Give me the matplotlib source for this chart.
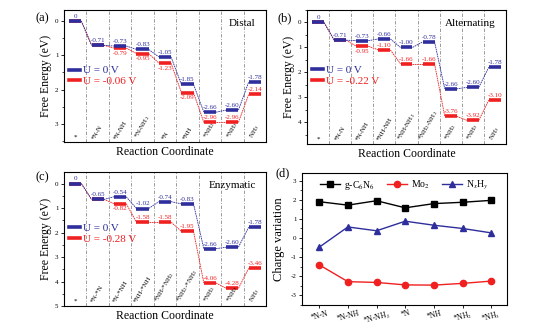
import numpy as np
import matplotlib
matplotlib.use('Agg')
import matplotlib.pyplot as plt
from matplotlib.lines import Line2D
from matplotlib.ticker import MultipleLocator, FuncFormatter

plt.rcParams['font.family'] = ['Liberation Serif', 'DejaVu Serif']
plt.rcParams['mathtext.fontset'] = 'stix'
plt.rcParams['axes.unicode_minus'] = False
plt.rcParams['axes.linewidth'] = 0.8

BLUE = '#2e2e9c'
RED = '#f02020'

# free energy of each intermediate (eV), at U = 0 and at the limiting potential
distal_steps = ['*', '*N-N', '*N-NH', '*N-NH$_2$', '*N', '*NH', '*NH$_2$', '*NH$_3$', 'NH$_3$']
distal_u0 = [0, -0.71, -0.73, -0.83, -1.05, -1.85, -2.66, -2.60, -1.78]
distal_ul = [0, -0.71, -0.79, -0.95, -1.23, -2.09, -2.96, -2.96, -2.14]

alt_steps = ['*', '*N-N', '*N-NH', '*NH-NH', '*NH-NH$_2$', '*NH$_2$-NH$_2$', '*NH$_2$', '*NH$_3$', 'NH$_3$']
alt_u0 = [0, -0.71, -0.73, -0.66, -1.00, -0.78, -2.66, -2.60, -1.78]
alt_ul = [0, -0.71, -0.95, -1.10, -1.66, -1.66, -3.76, -3.92, -3.10]

enz_steps = ['*', '*N-*N', '*N-*NH', '*NH-*NH', '*NH-*NH$_2$', '*NH$_2$-*NH$_2$', '*NH$_2$', '*NH$_3$', 'NH$_3$']
enz_u0 = [0, -0.65, -0.54, -1.02, -0.74, -0.83, -2.66, -2.60, -1.78]
enz_ul = [0, -0.65, -0.82, -1.58, -1.58, -1.95, -4.06, -4.28, -3.46]

# Bader charge variation of each fragment
charge_steps = ['*N-N', '*N-NH', '*N-NH$_2$', '*N', '*NH', '*NH$_2$', '*NH$_3$']
charge_gcn = [1.90, 1.72, 1.95, 1.58, 1.80, 1.87, 1.97]
charge_mo2 = [-1.40, -2.28, -2.32, -2.45, -2.46, -2.37, -2.25]
charge_nxhy = [-0.48, 0.58, 0.38, 0.88, 0.67, 0.50, 0.27]


def fmt(v):
    return '0' if v == 0 else f'{v:.2f}'


def energy_panel(ax, steps, e0, eu, u_text, title, ylim, red_below, leg_y):
    n = len(steps)
    half = 0.27
    for k in range(n - 1):
        ax.axvline(k + 0.5, color='#8a8a8a', lw=0.6, ls=(0, (4, 2, 1, 2)), zorder=0)
    for e, c in ((eu, RED), (e0, BLUE)):
        for i in range(n):
            ax.plot([i - half, i + half], [e[i], e[i]], color=c, lw=2.6,
                    solid_capstyle='butt', zorder=3)
            if i < n - 1:
                ax.plot([i + half, i + 1 - half], [e[i], e[i + 1]], color=c,
                        lw=0.6, ls=(0, (2, 0.8)), zorder=2)
    for i in range(n):
        ax.annotate(fmt(e0[i]), (i, e0[i]), xytext=(0, 1.5), textcoords='offset points',
                    ha='center', va='bottom', fontsize=5, color=BLUE, zorder=4)
    for i in range(2, n):
        below = i in red_below
        ax.annotate(fmt(eu[i]), (i, eu[i]), xytext=(0, -1.8 if below else 1.5),
                    textcoords='offset points', ha='center',
                    va='top' if below else 'bottom', fontsize=5, color=RED, zorder=4)
    for i, lab in enumerate(steps):
        ax.text(i, 0.015, lab, transform=ax.get_xaxis_transform(),
                rotation=0 if i == 0 else 60, ha='center', va='bottom', fontsize=5)
    ax.set_xlim(-0.5, n - 0.5)
    ax.set_ylim(*ylim)
    ax.set_xticks([])
    ax.yaxis.set_major_locator(MultipleLocator(1))
    ax.yaxis.set_minor_locator(MultipleLocator(0.5))
    ax.yaxis.set_major_formatter(FuncFormatter(lambda v, p: f'{abs(v):g}'))
    ax.tick_params(axis='y', labelsize=5, length=2.5, width=0.6, pad=1.5)
    ax.tick_params(axis='y', which='minor', length=1.5, width=0.5)
    ax.set_ylabel('Free Energy (eV)', fontsize=8.5, labelpad=2)
    ax.set_xlabel('Reaction Coordinate', fontsize=8.5, labelpad=3)
    ax.text(0.95, 0.93, title, transform=ax.transAxes, ha='right', va='top', fontsize=8)
    handles = [Line2D([], [], color=BLUE, lw=2.6), Line2D([], [], color=RED, lw=2.6)]
    leg = ax.legend(handles, ['U = 0 V', u_text], loc='center left',
                    bbox_to_anchor=(0.025, leg_y), frameon=False, fontsize=8,
                    handlelength=1.0, handletextpad=0.3, labelspacing=0.1,
                    borderaxespad=0, borderpad=0)
    for t, c in zip(leg.get_texts(), (BLUE, RED)):
        t.set_color(c)


fig = plt.figure(figsize=(5.4, 3.27), dpi=100)
W, H = 540, 327


def add_axes(l, t, r, b):
    return fig.add_axes([l / W, 1 - b / H, (r - l) / W, (b - t) / H])


ax_a = add_axes(64, 10, 266, 142)
ax_b = add_axes(307, 10, 506, 144)
ax_c = add_axes(64, 172, 266, 306)
ax_d = add_axes(302, 173, 507, 305)

energy_panel(ax_a, distal_steps, distal_u0, distal_ul, 'U = -0.06 V', 'Distal',
             (-3.53, 0.32), {2, 3, 4, 5}, 0.5)
energy_panel(ax_b, alt_steps, alt_u0, alt_ul, 'U = -0.22 V', 'Alternating',
             (-4.87, 0.5), {2}, 0.51)
energy_panel(ax_c, enz_steps, enz_u0, enz_ul, 'U = -0.28 V', 'Enzymatic',
             (-5.0, 0.47), {2}, 0.54)

# charge variation panel
x = np.arange(len(charge_steps))
ax_d.plot(x, charge_gcn, '-s', color='black', ms=4, lw=1, label='g-C$_6$N$_6$')
ax_d.plot(x, charge_mo2, '-o', color=RED, ms=4.5, lw=1, label='Mo$_2$')
ax_d.plot(x, charge_nxhy, '-^', color=BLUE, ms=4.5, lw=1, label='N$_x$H$_y$')
ax_d.set_xlim(-0.6, 6.55)
ax_d.set_ylim(-3.5, 3.4)
ax_d.set_xticks(x, charge_steps, rotation=15, fontsize=5.5)
ax_d.yaxis.set_major_locator(MultipleLocator(1))
ax_d.yaxis.set_minor_locator(MultipleLocator(0.5))
ax_d.tick_params(axis='y', labelsize=5, length=2.5, width=0.6, pad=1.5)
ax_d.tick_params(axis='y', which='minor', length=1.5, width=0.5)
ax_d.tick_params(axis='x', length=2.5, width=0.6, pad=0.5)
ax_d.set_ylabel('Charge variation', fontsize=9, labelpad=4)
ax_d.legend(loc='upper center', ncol=3, frameon=False, fontsize=7, handlelength=2,
            columnspacing=1.3, handletextpad=0.4, borderaxespad=0.2)

fig.text(36 / W, 1 - 18 / H, '(a)', fontsize=9, va='center')
fig.text(277 / W, 1 - 18 / H, '(b)', fontsize=9, va='center')
fig.text(36 / W, 1 - 177 / H, '(c)', fontsize=9, va='center')
fig.text(276 / W, 1 - 173 / H, '(d)', fontsize=9, va='center')

fig.savefig('out.png', dpi=100)
